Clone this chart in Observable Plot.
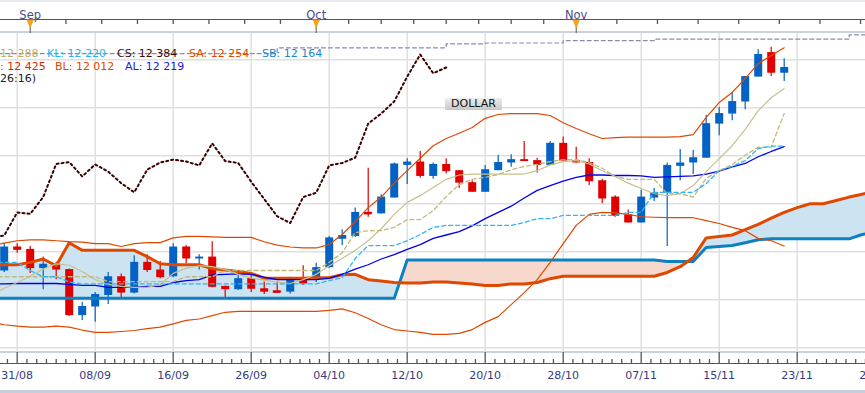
<!DOCTYPE html>
<html><head><meta charset="utf-8">
<script src="https://cdn.jsdelivr.net/npm/d3@7"></script>
<script src="https://cdn.jsdelivr.net/npm/@observablehq/plot@0.6"></script>
<style>
html,body{margin:0;padding:0;background:#fff;}
#wrap{position:relative;width:865px;height:393px;overflow:hidden;font-family:"DejaVu Sans",Verdana,sans-serif;background:#fff;}
.hl{position:absolute;left:0;width:865px;}
#chart{position:absolute;left:0;top:0;}
.lg{position:absolute;font-size:11px;line-height:13px;white-space:nowrap;}
#dollar{position:absolute;left:445px;top:98px;width:57px;height:12px;line-height:12px;font-size:11px;text-align:center;color:#111;background:linear-gradient(#efefef,#c6c6c6);border-radius:1px;}
</style></head><body><div id="wrap">
<div class="hl" style="top:0;height:2px;background:#e6e9ef"></div>
<div class="hl" style="top:19px;height:1px;background:#555"></div>
<div class="hl" style="top:31px;height:2px;background:#c9d2de"></div>
<div class="hl" style="top:351px;height:2px;background:#c9d2de"></div>
<div class="hl" style="top:363px;height:1px;background:#555"></div>
<div class="hl" style="top:390px;height:3px;background:#c5cedb"></div>
<div id="chart"></div>
<div class="lg" style="left:0;top:47px;color:#bdb06a">12 288</div>
<div class="lg" style="left:47px;top:47px;color:#28b4f0">KL: 12 220</div>
<div class="lg" style="left:117px;top:47px;color:#3a0a0a">CS: 12 384</div>
<div class="lg" style="left:189px;top:47px;color:#e04800">SA: 12 254</div>
<div class="lg" style="left:262px;top:47px;color:#1a88cc">SB: 12 164</div>
<div class="lg" style="left:0;top:60px;color:#e02800">: 12 425</div>
<div class="lg" style="left:55px;top:60px;color:#e04800">BL: 12 012</div>
<div class="lg" style="left:125px;top:60px;color:#1a1ae0">AL: 12 219</div>
<div class="lg" style="left:0;top:72px;color:#222">26:16)</div>
<div id="dollar">DOLLAR</div>
</div>
<script>
// ---------- data ----------
const candleStart = -1;   // index of first candle (31/08 = 0)
const open  = [11960,12010,12005,11965,11974,11963,11867,11885,11909,11948,11914,11978,11962,11948,12010,11985,11989,11928,11921,11944,11923,11918,11916,11946,11944,11967,12026,12032,12082,12079,12112,12180,12187,12157,12182,12169,12144,12124,12169,12185,12192,12190,12180,12226,12190,12186,12148,12114,12077,12060,12112,12122,12178,12185,12195,12266,12287,12312,12364,12415,12372];
const high  = [12017,12017,12011,11989,11978,11964,11895,11915,11957,11954,11992,11994,11980,12017,12013,11994,12021,11928,11954,11954,11937,11937,11947,11971,11976,12032,12046,12091,12174,12119,12185,12194,12209,12185,12194,12169,12148,12180,12201,12202,12230,12195,12230,12239,12218,12194,12151,12117,12087,12128,12132,12185,12213,12211,12284,12301,12332,12365,12421,12426,12402];
const low   = [11957,11997,11955,11921,11942,11865,11857,11853,11890,11905,11912,11957,11944,11946,11975,11962,11925,11905,11920,11915,11911,11915,11912,11930,11936,11965,12013,12030,12072,12079,12112,12140,12153,12151,12162,12132,12124,12124,12169,12176,12188,12164,12180,12189,12185,12138,12100,12072,12060,12060,12105,12011,12148,12161,12195,12242,12273,12296,12364,12365,12355];
const close = [12010,12003,11965,11974,11962,11867,11886,11911,11948,11914,11978,11961,11946,12010,11985,11989,11926,11921,11944,11922,11916,11916,11944,11933,11967,12029,12034,12082,12079,12114,12183,12187,12157,12182,12167,12143,12124,12171,12186,12192,12188,12180,12226,12189,12185,12146,12110,12074,12060,12114,12123,12180,12185,12196,12267,12288,12313,12365,12411,12372,12384];

const lineStart = -2;     // indicator series start index
const bbUpper = [12013,12018,12023,12025,12025,12023,12021,12020,12017,12017,12011,12017,12019,12019,12029,12032,12032,12031,12030,12030,12030,12021,12014,12010,12008,12008,12015,12036,12063,12092,12114,12143,12169,12195,12221,12236,12247,12259,12278,12286,12288,12288,12288,12284,12269,12257,12246,12236,12238,12239,12239,12239,12239,12240,12244,12280,12311,12332,12361,12392,12409,12425];
const bbMid   = [11933,11933,11934,11934,11934,11934,11932,11930,11930,11926,11926,11926,11928,11928,11936,11940,11942,11952,11953,11954,11953,11947,11942,11942,11942,11942,11945,11953,11964,11973,11985,11994,12005,12015,12028,12035,12042,12054,12069,12082,12095,12112,12128,12138,12147,12155,12160,12160,12159,12159,12158,12155,12156,12157,12158,12162,12168,12177,12184,12198,12209,12219];
const bbLower = [11853,11848,11845,11843,11843,11845,11843,11837,11832,11832,11834,11836,11840,11843,11850,11857,11860,11867,11874,11876,11876,11876,11876,11876,11876,11876,11878,11881,11873,11861,11848,11838,11835,11832,11828,11828,11830,11838,11853,11865,11890,11915,11942,11978,12017,12055,12078,12082,12081,12078,12073,12072,12071,12071,12071,12065,12059,12051,12044,12028,12023,12012];
const smaLine = [11909,11924,11936,11949,11964,11975,11972,11959,11942,11932,11928,11926,11926,11932,11955,11966,11971,11969,11963,11953,11945,11941,11937,11934,11942,11953,11971,11986,12003,12023,12048,12078,12103,12117,12134,12151,12160,12162,12162,12162,12162,12162,12169,12181,12188,12190,12183,12169,12157,12143,12132,12121,12117,12121,12138,12167,12194,12221,12255,12294,12321,12340];
const tenkan  = [11948,11948,11948,11948,11948,11948,11948,11948,11948,11938,11938,11938,11938,11938,11938,11948,11948,11948,11961,11961,11961,11961,11961,11961,11961,11961,11978,11998,12040,12044,12044,12051,12067,12067,12086,12115,12140,12151,12155,12161,12171,12178,12182,12188,12192,12192,12186,12174,12157,12151,12151,12151,12121,12121,12114,12153,12169,12182,12201,12218,12218,12288];
const kijun   = [11978,11978,11978,11961,11948,11948,11937,11933,11933,11933,11933,11933,11933,11933,11933,11933,11933,11933,11933,11933,11933,11933,11933,11933,11933,11933,11940,11946,11986,12013,12013,12013,12023,12036,12051,12055,12055,12055,12055,12055,12055,12061,12069,12069,12076,12076,12076,12076,12076,12082,12082,12124,12124,12124,12124,12142,12169,12178,12190,12215,12220,12220];

const cloudStart = -2;    // senkou spans run 26 periods ahead
const senkouA = [11973,11973,11973,11978,11985,11971,12019,12003,12003,12003,12003,12003,11990,11975,11973,11973,11973,11965,11962,11959,11955,11945,11945,11945,11945,11946,11946,11952,11953,11942,11939,11936,11935,11935,11937,11937,11935,11933,11930,11930,11933,11933,11936,11944,11949,11949,11949,11949,11949,11949,11949,11949,11957,11969,11988,12029,12032,12035,12046,12057,12070,12082,12092,12100,12100,12107,12114,12120,12126];
const senkouB = [11903,11903,11903,11903,11903,11903,11903,11903,11903,11903,11903,11903,11903,11903,11903,11903,11903,11903,11903,11903,11903,11903,11903,11903,11903,11903,11903,11903,11903,11903,11903,11903,11983,11983,11983,11983,11983,11983,11983,11983,11983,11983,11983,11983,11983,11983,11983,11983,11983,11983,11983,11983,11980,11980,11980,12009,12011,12013,12019,12025,12027,12027,12027,12027,12027,12027,12027,12036,12040];

const refLineIdx = [-2, 20, 33, 36, 42, 49, 64, 66];
const refLineVal = [12413, 12425, 12433, 12435, 12440, 12443, 12452, 12452];

const dateLabels = ["31/08","08/09","16/09","26/09","04/10","12/10","20/10","28/10","07/11","15/11","23/11","29/11"];
const monthNames = ["Sep","Oct","Nov"];
const monthStart = [1, 23, 43, 68];
const yGrid = [11800, 11900, 12000, 12100, 12200, 12300, 12400];

// ---------- derived tables ----------
const UP = "#0462c4", DOWN = "#e00000";
const candles = open.map((o, k) => ({i: k + candleStart, o, h: high[k], l: low[k], c: close[k]}));
const lines = bbUpper.map((u, k) => ({i: k + lineStart, up: u, mid: bbMid[k], lo: bbLower[k], sma: smaLine[k], ten: tenkan[k], kij: kijun[k]}));
const chikou = candles.filter(d => d.i - 26 >= lineStart).map(d => ({i: d.i - 26, v: d.c}));
const cloud = [];
senkouA.forEach((a, k) => {
  const b = senkouB[k], i = k + cloudStart;
  if (k > 0) {
    const a0 = senkouA[k-1], b0 = senkouB[k-1];
    if ((a0 - b0) * (a - b) < 0) {
      const t = (a0 - b0) / ((a0 - b0) - (a - b));
      cloud.push({i: i - 1 + t, a: a0 + t * (a - a0), b: b0 + t * (b - b0)});
    }
  }
  cloud.push({i, a, b});
});
const refLine = refLineIdx.map((i, k) => ({i, v: refLineVal[k]}));
const majorIdx = dateLabels.map((d, k) => k * 6);
const minorIdx = d3.range(-1, 88).map(k => k * 0.75).filter(v => v % 6 !== 0);
const topMinor = [];
for (let m = 0; m < monthStart.length - 1; m++) {
  for (let j = 1; j < 8; j++) topMinor.push(monthStart[m] + (monthStart[m+1] - monthStart[m]) * j / 8);
}
const monthIdx = monthStart.slice(0, 3);
const downTri = {draw(ctx) { ctx.moveTo(-3.8, 0); ctx.lineTo(3.8, 0); ctx.lineTo(0, 9); ctx.closePath(); }};

const W = 865, H = 393;
const clip = true;
const chart = Plot.plot({
  width: W, height: H, marginTop: 33, marginBottom: 41, marginLeft: 0, marginRight: 0,
  x: {domain: [-1.2846, 65.2538], axis: null},
  y: {domain: [11790.2, 12454.8], axis: null},
  color: {type: "identity"},
  style: {background: "transparent", fontFamily: "DejaVu Sans, Verdana, sans-serif", fontSize: "11px"},
  marks: [
    Plot.ruleY(yGrid, {stroke: "#e0e0e0", strokeWidth: 1.5}),
    Plot.ruleX(majorIdx, {stroke: "#e0e0e0", strokeWidth: 1.5}),
    // top month axis
    Plot.tickX(topMinor, {x: d => d, stroke: "#555", strokeWidth: 1.3, insetTop: -14, insetBottom: 328}),
    Plot.tickX(monthIdx, {x: d => d, stroke: "#555", insetTop: -14, insetBottom: 319}),
    Plot.dot(monthIdx, {x: d => d, frameAnchor: "top", dy: -14, symbol: downTri, r: 4, fill: "#f6a21e", stroke: "none"}),
    Plot.text(monthIdx, {x: d => d, text: (d, k) => monthNames[k], frameAnchor: "top", dy: -23, fill: "#4b4b8c", fontSize: 11.5}),
    // bottom date axis
    Plot.tickX(minorIdx, {x: d => d, stroke: "#555", strokeWidth: 1.3, insetTop: 326, insetBottom: -11}),
    Plot.tickX(majorIdx, {x: d => d, stroke: "#555", strokeWidth: 1.3, insetTop: 319, insetBottom: -11}),
    Plot.text(majorIdx, {x: d => d, text: (d, k) => dateLabels[k], frameAnchor: "bottom", dy: 26, fill: "#333b7d"}),
    // reference dashed line
    Plot.line(refLine, {x: "i", y: "v", curve: "step-after", stroke: "#8a8aaa", strokeWidth: 1.2, strokeDasharray: "4,3", clip}),
    // ichimoku cloud fill (beneath candles)
    Plot.areaY(cloud, {x: "i", y1: "b", y2: d => Math.max(d.a, d.b), fill: "#cce3f1", clip}),
    Plot.areaY(cloud, {x: "i", y1: "a", y2: d => Math.max(d.a, d.b), fill: "#f6d8cc", clip}),
    // candles
    Plot.ruleX(candles, {x: "i", y1: "l", y2: "h", stroke: d => d.c >= d.o ? UP : DOWN, strokeWidth: 1.2, clip}),
    Plot.ruleX(candles, {x: "i", y1: "o", y2: "c", stroke: d => d.c >= d.o ? UP : DOWN, strokeWidth: 8, clip}),
    Plot.ruleY(candles.filter(d => Math.abs(d.c - d.o) < 4), {x1: d => d.i - 0.3, x2: d => d.i + 0.3, y: d => (d.o + d.c) / 2, stroke: d => d.c >= d.o ? UP : DOWN, strokeWidth: 2.5, clip}),
    // senkou spans
    Plot.line(cloud, {x: "i", y: "b", stroke: "#0c80c0", strokeWidth: 3, clip}),
    Plot.line(cloud, {x: "i", y: "a", stroke: "#e04800", strokeWidth: 3, clip}),
    // bollinger
    Plot.line(lines, {x: "i", y: "up", stroke: "#e04800", strokeWidth: 1.2, clip}),
    Plot.line(lines, {x: "i", y: "lo", stroke: "#e04800", strokeWidth: 1.2, clip}),
    Plot.line(lines, {x: "i", y: "mid", stroke: "#0000ee", strokeWidth: 1.3, clip}),
    // moving averages / tenkan / kijun
    Plot.line(lines, {x: "i", y: "sma", stroke: "#c8c08c", strokeWidth: 1.2, clip}),
    Plot.line(lines, {x: "i", y: "ten", stroke: "#c2b878", strokeWidth: 1.3, strokeDasharray: "4,3", clip}),
    Plot.line(lines, {x: "i", y: "kij", stroke: "#2cb6f4", strokeWidth: 1.3, strokeDasharray: "4,3", clip}),
    // chikou span
    Plot.line(chikou, {x: "i", y: "v", stroke: "#3a0000", strokeWidth: 2, strokeDasharray: "2,3", clip})
  ]
});
document.getElementById("chart").appendChild(chart);
</script>
</body></html>
